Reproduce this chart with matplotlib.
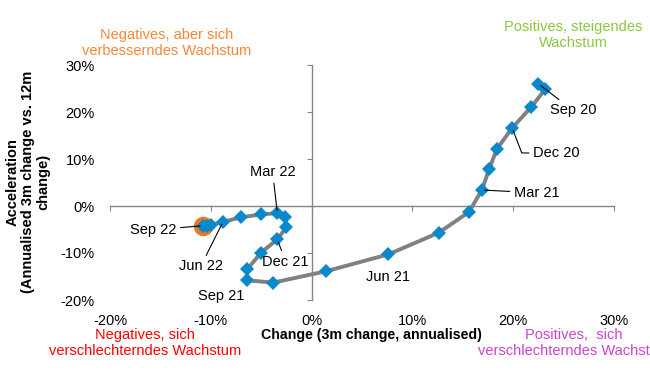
import matplotlib
matplotlib.use('Agg')
import matplotlib.pyplot as plt

plt.rcParams['font.family'] = ['Liberation Sans', 'DejaVu Sans']

# ---- data (percent) ----
months = ['Sep 20', 'Oct 20', 'Nov 20', 'Dec 20', 'Jan 21', 'Feb 21', 'Mar 21',
          'Apr 21', 'May 21', 'Jun 21', 'Jul 21', 'Aug 21', 'Sep 21', 'Oct 21',
          'Nov 21', 'Dec 21', 'Jan 22', 'Feb 22', 'Mar 22', 'Apr 22', 'May 22',
          'Jun 22', 'Jul 22', 'Aug 22', 'Sep 22']
change = [22.5, 23.2, 21.8, 19.9, 18.4, 17.6, 16.9,
          15.6, 12.6, 7.6, 1.4, -3.8, -6.4, -6.4,
          -5.0, -3.4, -2.5, -2.6, -3.4, -5.0, -7.0,
          -8.8, -10.0, -10.4, -10.8]
accel = [26.0, 24.9, 21.1, 16.6, 12.2, 7.8, 3.4,
         -1.3, -5.7, -10.3, -13.9, -16.3, -15.8, -13.5,
         -9.9, -7.1, -4.5, -2.4, -1.5, -1.8, -2.4,
         -3.4, -4.0, -4.3, -4.2]
latest = 'Sep 22'

x_ticks = [-20, -10, 0, 10, 20, 30]
y_ticks = [-20, -10, 0, 10, 20, 30]
x_tick_labels = ['-20%', '-10%', '0%', '10%', '20%', '30%']
y_tick_labels = ['-20%', '-10%', '0%', '10%', '20%', '30%']

x_title = 'Change (3m change, annualised)'
y_title = 'Acceleration\n(Annualised 3m change vs. 12m\nchange)'

quadrants = [
    ('Negatives, aber sich\nverbesserndes Wachstum', '#F5883A', 167, 43),
    ('Positives, steigendes\nWachstum', '#8DC63F', 573, 35),
    ('Negatives, sich\nverschlechterndes Wachstum', '#FF0000', 145, 343),
    ('Positives,  sich\nverschlechterndes Wachstum', '#CC44CC', 574, 343),
]

# label: (offset x pt, offset y pt, ha, leader, connection)
point_labels = {
    'Sep 20': (8, -19, 'left', True, 'arc3'),
    'Dec 20': (15, -18, 'left', True, 'angle,angleA=0,angleB=111,rad=0'),
    'Mar 21': (23, -2, 'left', True, 'arc3'),
    'Jun 21': (0, -16, 'center', False, 'arc3'),
    'Sep 21': (-19, -11, 'center', False, 'arc3'),
    'Dec 21': (6, -16, 'center', True, 'arc3'),
    'Mar 22': (-3.4, 29.5, 'center', True, 'arc3'),
    'Jun 22': (-16, -32, 'center', True, 'arc3'),
    'Sep 22': (-19, -3, 'right', True, 'arc3'),
}

W, H = 650, 370
fig = plt.figure(figsize=(6.5, 3.7), dpi=100)
ax = fig.add_axes([110 / W, 1 - 300 / H, 504 / W, 235 / H])

axis_color = '#868686'
ax.set_xlim(x_ticks[0], x_ticks[-1])
ax.set_ylim(y_ticks[0], y_ticks[-1])
ax.set_xticks(x_ticks)
ax.set_yticks(y_ticks)
ax.set_xticklabels(x_tick_labels)
ax.set_yticklabels(y_tick_labels)
for s in ['top', 'right']:
    ax.spines[s].set_visible(False)
ax.spines['left'].set_position(('data', 0))
ax.spines['bottom'].set_position(('data', 0))
for s in ['left', 'bottom']:
    ax.spines[s].set_color(axis_color)
    ax.spines[s].set_linewidth(1.0)
ax.tick_params(axis='x', direction='out', length=3.5, width=0.8, color=axis_color,
               pad=74.5, labelsize=10.5, labelcolor='black')
ax.tick_params(axis='y', direction='out', length=3.5, width=0.8, color=axis_color,
               pad=152.5, labelsize=10.5, labelcolor='black')
ax.patch.set_alpha(0)

# latest point highlight
li = months.index(latest)
ax.plot([change[li]], [accel[li]], 'o', color='#EE7722', markersize=13, zorder=2)

ax.plot(change, accel, '-', color='#808080', linewidth=2.8, zorder=3,
        solid_capstyle='round', solid_joinstyle='round')
ax.plot(change, accel, 'D', color='#0A88CC', markersize=7.5, markeredgewidth=0,
        zorder=4)

for m, (dx, dy, ha, leader, conn) in point_labels.items():
    i = months.index(m)
    kw = {}
    if leader:
        kw['arrowprops'] = dict(arrowstyle='-', color='black', lw=0.8,
                                shrinkA=1, shrinkB=2, connectionstyle=conn)
    ax.annotate(m, xy=(change[i], accel[i]), xytext=(dx, dy),
                textcoords='offset points', ha=ha, va='center',
                fontsize=10.5, color='black', zorder=5, **kw)

for txt, col, px, py in quadrants:
    fig.text(px / W, 1 - py / H, txt, color=col, fontsize=10.5, ha='center',
             va='center', multialignment='center', linespacing=1.15)

fig.text(371 / W, 1 - 335 / H, x_title, fontsize=10.2, fontweight='bold',
         ha='center', va='center')
fig.text(28 / W, 1 - 182 / H, y_title, fontsize=10.5, fontweight='bold',
         ha='center', va='center', rotation=90, multialignment='center',
         linespacing=1.15)

fig.savefig('out.png', dpi=100)
